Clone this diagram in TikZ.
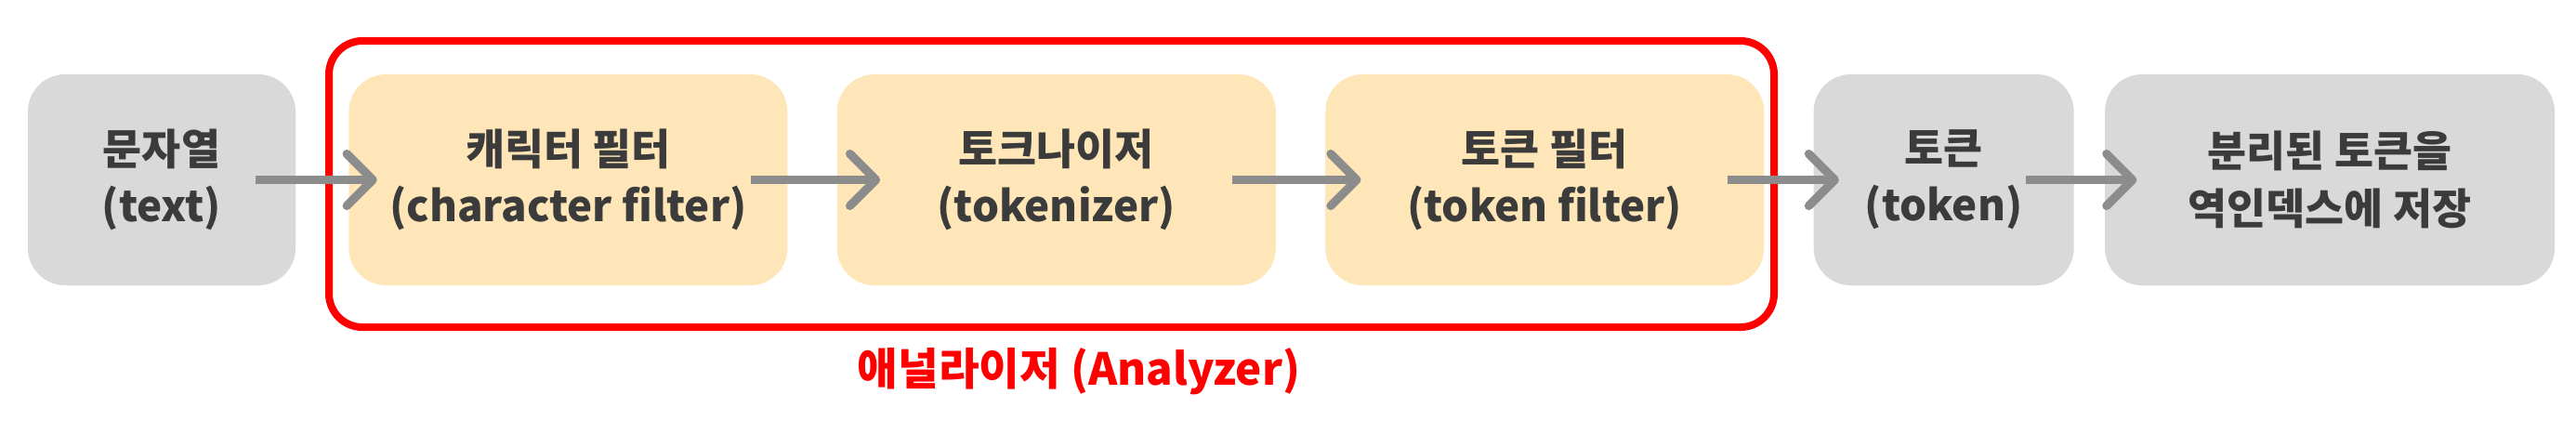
\documentclass[tikz,border=0pt]{standalone}
\usepackage{fontspec}
\setmainfont{Noto Sans CJK KR}
\usetikzlibrary{positioning, arrows.meta}

\definecolor{boxgray}{HTML}{D9D9D9}
\definecolor{boxcream}{HTML}{FFE6B8}
\definecolor{textdark}{HTML}{3B3B3B}
\definecolor{arrowgray}{HTML}{8C8C8C}
\definecolor{anred}{HTML}{FF0000}

\begin{document}
\begin{tikzpicture}[
    font=\bfseries\fontsize{13}{17.5}\selectfont,
    stage/.style={rounded corners=0.4cm, minimum height=2.27cm, align=center,
                  text=textdark, inner sep=0pt},
    graybox/.style={stage, fill=boxgray},
    creambox/.style={stage, fill=boxcream},
    flow/.style={arrowgray, line width=2.6pt,
                 -{Straight Barb[length=0.28cm, width=0.56cm, round]}},
]
\useasboundingbox (0,0) rectangle (27.72,-4.52);

% ---- Analyzer frame ----
\node[draw=anred, line width=0.08cm, rounded corners=0.36cm,
      minimum width=15.55cm, minimum height=3.08cm] (analyzer) at (11.315,-1.98) {};
\node[text=anred, font=\bfseries\fontsize{13.5}{16}\selectfont] (analyzerlabel)
    at (11.61,-4.0) {애널라이저 (Analyzer)};

% ---- Pipeline stages ----
\node[graybox, minimum width=2.88cm] (text) at (1.74,-1.935) {문자열\\(text)};
\node[creambox, minimum width=4.72cm, right=0.56cm of text] (charfilter)
    {캐릭터 필터\\(character filter)};
\node[creambox, minimum width=4.72cm, right=0.52cm of charfilter] (tokenizer)
    {토크나이저\\(tokenizer)};
\node[creambox, minimum width=4.72cm, right=0.52cm of tokenizer] (tokenfilter)
    {토큰 필터\\(token filter)};
\node[graybox, minimum width=2.80cm, right=0.52cm of tokenfilter] (token)
    {토큰\\(token)};
\node[graybox, minimum width=4.84cm, right=0.32cm of token] (store)
    {분리된 토큰을\\역인덱스에 저장};

% ---- Arrows ----
\draw[flow] ([xshift=-0.44cm]text.east) -- ([xshift=0.31cm]charfilter.west);
\draw[flow] ([xshift=-0.40cm]charfilter.east) -- ([xshift=0.47cm]tokenizer.west);
\draw[flow] ([xshift=-0.48cm]tokenizer.east) -- ([xshift=0.39cm]tokenfilter.west);
\draw[flow] ([xshift=-0.40cm]tokenfilter.east) -- ([xshift=0.28cm]token.west);
\draw[flow] ([xshift=-0.52cm]token.east) -- ([xshift=0.35cm]store.west);

\end{tikzpicture}
\end{document}
